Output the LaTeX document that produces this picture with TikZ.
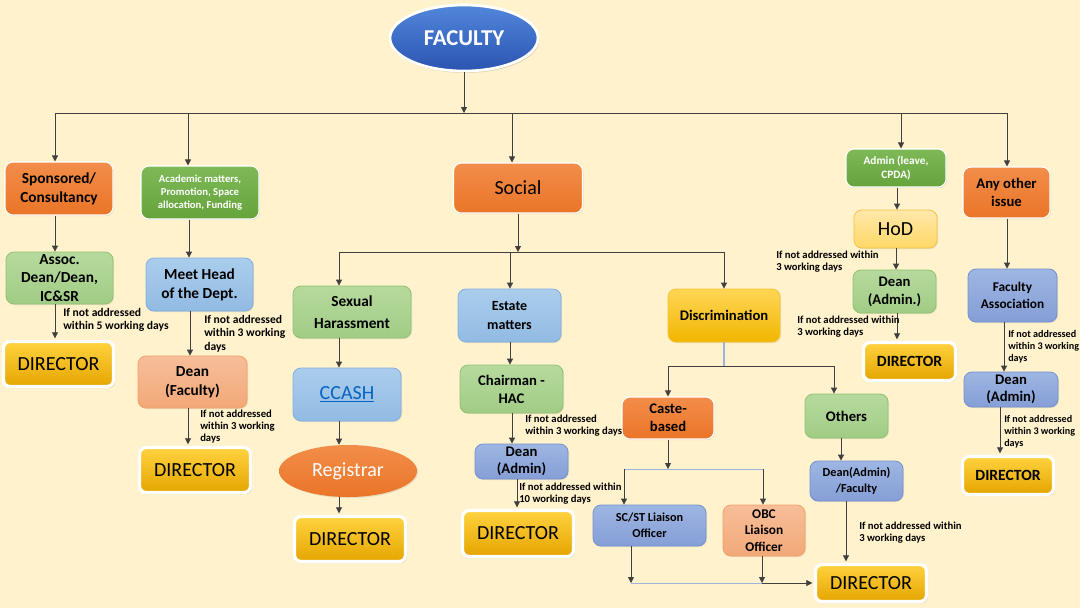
\documentclass[tikz,border=0pt]{standalone}
\usepackage{fontspec}
\setmainfont{Carlito}
\usetikzlibrary{arrows.meta,shapes.geometric,shadows}
\definecolor{bgc}{HTML}{FFF2CC}
\definecolor{lineC}{HTML}{404040}
\definecolor{lightline}{HTML}{9DB5DE}
\definecolor{orT}{HTML}{F28D4A}\definecolor{orB}{HTML}{EA7527}
\definecolor{grT}{HTML}{7EB957}\definecolor{grB}{HTML}{65A33B}
\definecolor{lgT}{HTML}{B6DA9E}\definecolor{lgB}{HTML}{A1CC85}\definecolor{lgE}{HTML}{8FC271}
\definecolor{lbT}{HTML}{AACDEC}\definecolor{lbB}{HTML}{92BBE3}\definecolor{lbE}{HTML}{80AEE0}
\definecolor{bpT}{HTML}{9EB6E2}\definecolor{bpB}{HTML}{859ED6}\definecolor{bpE}{HTML}{7690D0}
\definecolor{saT}{HTML}{F7BE99}\definecolor{saB}{HTML}{F2A878}\definecolor{saE}{HTML}{F3A06A}
\definecolor{goT}{HTML}{FFD656}\definecolor{goB}{HTML}{F2B600}\definecolor{goE}{HTML}{F5C334}
\definecolor{hoT}{HTML}{FFE8AA}\definecolor{hoB}{HTML}{FFD868}\definecolor{hoE}{HTML}{F6C343}
\definecolor{diT}{HTML}{FFD23F}\definecolor{diB}{HTML}{E5A500}
\definecolor{faT}{HTML}{5186DA}\definecolor{faB}{HTML}{2A55B2}
\definecolor{linkC}{HTML}{0563C1}
\newcommand\mkbox[7]{\node[#6, minimum width=#4*0.75pt, minimum height=#5*0.75pt] (#1) at (#2,#3) {#7};}
\newcommand\varr[3]{\draw[arr] (#1.south -| #3,0) -- (#2.north -| #3,0);}
\newcommand\fs[2]{\fontsize{#1}{#2}\selectfont}
\tikzset{
  bx/.style={rounded corners=6pt, align=center, inner sep=1pt, font=\bfseries,
    drop shadow={opacity=0.18, shadow xshift=0.8pt, shadow yshift=-0.8pt}},
  orbox/.style={bx, draw=white, line width=0.8pt, top color=orT, bottom color=orB},
  grbox/.style={bx, draw=white, line width=0.8pt, top color=grT, bottom color=grB, text=white},
  lgbox/.style={bx, draw=lgE, line width=0.6pt, top color=lgT, bottom color=lgB},
  lbbox/.style={bx, draw=lbE, line width=0.6pt, top color=lbT, bottom color=lbB},
  bpbox/.style={bx, draw=bpE, line width=0.6pt, top color=bpT, bottom color=bpB},
  sabox/.style={bx, draw=saE, line width=0.6pt, top color=saT, bottom color=saB},
  gobox/.style={bx, draw=goE, line width=0.6pt, top color=goT, bottom color=goB},
  hobox/.style={bx, draw=hoE, line width=0.6pt, top color=hoT, bottom color=hoB, font=\mdseries},
  dirbox/.style={rounded corners=5pt, align=center, inner sep=1pt,
    drop shadow={opacity=0.25, shadow xshift=1.2pt, shadow yshift=-1.2pt},
    draw=white, line width=2.4pt, top color=diT, bottom color=diB},
  arr/.style={draw=lineC, line width=0.6pt, -{Triangle[length=4.5pt,width=4.5pt]}},
  ln/.style={draw=lineC, line width=0.6pt},
  lab/.style={font=\bfseries\fs{8}{9}, align=left, anchor=north west, inner sep=0pt},
  labb/.style={font=\bfseries\fs{8.7}{10}, align=left, anchor=north west, inner sep=0pt},
  labs/.style={font=\bfseries\fs{7.6}{9}, align=left, anchor=north west, inner sep=0pt},
}
\begin{document}
\begin{tikzpicture}[x=0.75pt,y=-0.75pt]
\fill[bgc] (0,0) rectangle (1080,608);
\useasboundingbox (0,0) rectangle (1080,608);

% top
\node[ellipse, minimum width=148*0.75pt, minimum height=66*0.75pt, draw=white, line width=2pt,
  top color=faT, bottom color=faB, text=white, font=\bfseries\fs{17}{20},
  drop shadow={opacity=0.25, shadow xshift=1pt, shadow yshift=-1.5pt}] (fac) at (464,38) {FACULTY};

% row 1
\mkbox{spon}{59}{188.5}{108}{53}{orbox, font=\bfseries\fs{11.5}{14}}{Sponsored/\\Consultancy}
\mkbox{acad}{200}{192.5}{118}{53}{grbox, font=\bfseries\fs{8}{10}}{Academic matters,\\Promotion, Space\\allocation, Funding}
\mkbox{social}{518}{188}{129}{50}{orbox, font=\mdseries\fs{15}{18}}{Social}
\mkbox{admin}{896}{168}{100}{38}{grbox, font=\bfseries\fs{8.5}{11}}{Admin (leave,\\CPDA)}
\mkbox{any}{1006.5}{192.5}{87}{51}{orbox, font=\bfseries\fs{11}{13.5}}{Any other\\issue}

% column 1-2
\mkbox{assoc}{59.5}{278}{107}{52}{lgbox, font=\bfseries\fs{11.5}{14}}{Assoc.\\Dean/Dean,\\IC\&SR}
\mkbox{meet}{199.5}{284.5}{107}{53}{lbbox, font=\bfseries\fs{11.5}{14}}{Meet Head\\of the Dept.}
\mkbox{dir1}{58.5}{364}{110}{45}{dirbox, font=\fs{15}{18}}{DIRECTOR}
\mkbox{deanf}{192.5}{382}{109}{52}{sabox, font=\bfseries\fs{11.5}{14}}{Dean\\(Faculty)}
\mkbox{dir2}{195}{470}{111}{45}{dirbox, font=\fs{15}{18}}{DIRECTOR}

% social column
\mkbox{sexual}{352}{312}{118}{52}{lgbox, font=\bfseries\fs{11.5}{17}}{Sexual\\Harassment}
\mkbox{ccash}{347}{394.5}{108}{53}{lbbox, font=\mdseries\fs{15}{18}, text=linkC}{\underline{CCASH}}
\node[ellipse, minimum width=138*0.75pt, minimum height=52*0.75pt, top color=orT, bottom color=orB,
  text=white, font=\fs{15}{18}, drop shadow={opacity=0.18, shadow xshift=0.8pt, shadow yshift=-0.8pt}] (reg) at (348,471) {Registrar};
\mkbox{dir3}{350}{539}{111}{45}{dirbox, font=\fs{15}{18}}{DIRECTOR}
\mkbox{estate}{509.5}{315.5}{103}{53}{lbbox, font=\bfseries\fs{10.5}{14}}{Estate\\matters}
\mkbox{chair}{511.5}{389}{103}{48}{lgbox, font=\bfseries\fs{11}{13.5}}{Chairman -\\HAC}
\mkbox{deana}{521.5}{461.5}{93}{35}{bpbox, font=\bfseries\fs{11}{13}}{Dean\\(Admin)}
\mkbox{dir4}{518}{533.5}{111}{46}{dirbox, font=\fs{15}{18}}{DIRECTOR}

% discrimination
\mkbox{discrim}{724}{315.5}{112}{53}{gobox, font=\bfseries\fs{11}{13}}{Discrimination}
\mkbox{caste}{668}{418}{92}{42}{orbox, font=\bfseries\fs{11}{13.5}}{Caste-\\based}
\mkbox{others}{846.5}{416}{83}{44}{lgbox, font=\bfseries\fs{11}{13}}{Others}
\mkbox{scst}{649.5}{525.5}{113}{41}{bpbox, font=\bfseries\fs{9.2}{12}}{SC/ST Liaison\\Officer}
\mkbox{obc}{764}{530.5}{82}{51}{sabox, font=\bfseries\fs{10}{12.5}}{OBC\\Liaison\\Officer}
\mkbox{deanaf}{856.5}{481}{93}{40}{bpbox, font=\bfseries\fs{9.2}{12}}{Dean(Admin)\\/Faculty}
\mkbox{dir6}{871}{583}{111}{37}{dirbox, font=\fs{15}{18}}{DIRECTOR}

% admin column
\mkbox{hod}{895.5}{229}{83}{38}{hobox, font=\fs{15}{18}}{HoD}
\mkbox{deanad}{894.5}{291.5}{83}{43}{lgbox, font=\bfseries\fs{11}{13.5}}{Dean\\(Admin.)}
\mkbox{dir5}{909.5}{361.5}{92}{38}{dirbox, font=\bfseries\fs{11.7}{14}}{DIRECTOR}

% any other column
\mkbox{facas}{1012.5}{295.5}{89}{53}{bpbox, font=\bfseries\fs{10}{13}}{Faculty\\Association}
\mkbox{deanad3}{1011}{389.5}{94}{35}{bpbox, font=\bfseries\fs{11}{13}}{Dean\\(Admin)}
\mkbox{dir7}{1008}{475.5}{91}{38}{dirbox, font=\bfseries\fs{11.7}{14}}{DIRECTOR}

% main bus
\coordinate (fbus) at (464,113);
\coordinate (busL) at (55,113);
\coordinate (busR) at (1007,113);
\coordinate (b2) at (188,113);
\coordinate (b3) at (512,113);
\coordinate (b4) at (901,113);
\draw[arr] (fac.south) -- (fbus);
\draw[ln] (busL) -- (busR);
\draw[arr] (busL) -- (spon.north -| busL);
\draw[arr] (b2) -- (acad.north -| b2);
\draw[arr] (b3) -- (social.north -| b3);
\draw[arr] (b4) -- (admin.north -| b4);
\draw[arr] (busR) -- (any.north -| busR);

% columns 1-2
\varr{spon}{assoc}{55}
\varr{acad}{meet}{189}
\draw[arr] (assoc.south -| 55,0) -- ([yshift=1.2pt]dir1.north -| 55,0);
\varr{meet}{deanf}{190}
\draw[arr] (deanf.south -| 188,0) -- ([yshift=1.2pt]dir2.north -| 188,0);
\node[labb] (lab1) at (63,308) {If not addressed\\within 5 working days};
\node[labb] (lab2) at (204,315) {If not addressed\\within 3 working\\days};
\node[lab] (lab3) at (200,410) {If not addressed\\within 3 working\\days};

% social
\coordinate (sbus) at (518,252);
\coordinate (sbusL) at (339,252);
\coordinate (sbusM) at (510,252);
\coordinate (sbusR) at (724,252);
\draw[arr] (social.south -| sbus) -- (sbus);
\draw[ln] (sbusL) -- (sbusR);
\draw[arr] (sbusL) -- (sexual.north -| sbusL);
\draw[arr] (sbusM) -- (estate.north -| sbusM);
\draw[arr] (sbusR) -- (discrim.north -| sbusR);
\varr{sexual}{ccash}{339}
\varr{ccash}{reg}{339}
\draw[arr] (reg.south -| 339,0) -- ([yshift=1.2pt]dir3.north -| 339,0);
\varr{estate}{chair}{510}
\varr{chair}{deana}{512}
\draw[arr] (deana.south -| 517,0) -- ([yshift=1.2pt]dir4.north -| 517,0);
\node[lab] (lab4) at (525,415) {If not addressed\\within 3 working days};
\node[lab] (lab5) at (519,483) {If not addressed within\\10 working days};

% discrimination
\coordinate (dbus) at (724,366);
\coordinate (dbusL) at (668,366);
\coordinate (dbusR) at (834,366);
\draw[line width=0.8pt, lightline] (discrim.south) -- (dbus);
\draw[ln] (dbusL) -- (dbusR);
\draw[arr] (dbusL) -- (caste.north -| dbusL);
\draw[arr] (dbusR) -- (others.north -| dbusR);
\coordinate (cbus) at (668,469);
\coordinate (cbusL) at (624,469);
\coordinate (cbusR) at (763,469);
\draw[line width=0.7pt, lightline] (cbusL) -- (cbusR);
\draw[arr] (caste.south -| cbus) -- (cbus);
\draw[arr] (cbusL) -- (scst.north -| cbusL);
\draw[arr] (cbusR) -- (obc.north -| cbusR);
\coordinate (botL) at (631,583);
\coordinate (botM) at (762,583);
\draw[line width=0.7pt, lightline] (botL) -- (botM);
\draw[arr] (scst.south -| botL) -- (botL);
\draw[arr] (obc.south -| botM) -- (botM);
\draw[arr] (botM) -- ([xshift=-1.2pt]dir6.west);
\varr{others}{deanaf}{841}
\draw[arr] (deanaf.south -| 846,0) -- ([yshift=1.2pt]dir6.north -| 846,0);
\node[lab] (lab6) at (859,522) {If not addressed within\\3 working days};

% admin column
\varr{admin}{hod}{897}
\varr{hod}{deanad}{896}
\draw[arr] (deanad.south -| 897,0) -- ([yshift=1.2pt]dir5.north -| 897,0);
\node[lab] (lab7) at (776,251) {If not addressed within\\3 working days};
\node[lab] (lab8) at (797,316) {If not addressed within\\3 working days};

% any other column
\varr{any}{facas}{1007}
\varr{facas}{deanad3}{1004}
\draw[arr] (deanad3.south -| 1000,0) -- ([yshift=1.2pt]dir7.north -| 1000,0);
\node[labs] (lab9) at (1008,330) {If not addressed\\within 3 working\\days};
\node[labs] (lab10) at (1004,415) {If not addressed\\within 3 working\\days};
\end{tikzpicture}
\end{document}
